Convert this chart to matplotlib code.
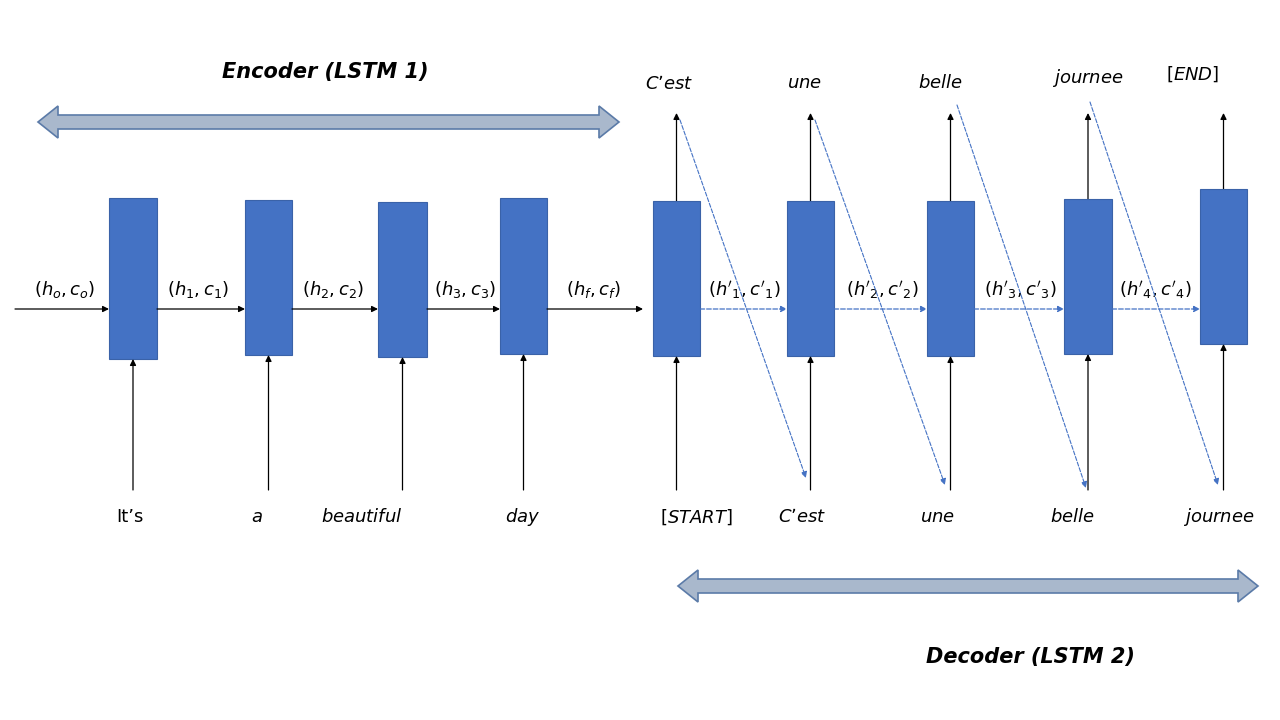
import matplotlib
matplotlib.use("Agg")
import matplotlib.pyplot as plt
from matplotlib.patches import Rectangle, Polygon

# cell boxes (left, top, right, bottom) in pixel coords
boxes = [(109, 198, 157, 359), (245, 200, 292, 355), (378, 202, 427, 357),
         (500, 198, 547, 354), (653, 201, 700, 356), (787, 201, 834, 356),
         (927, 201, 974, 356), (1064, 199, 1112, 354), (1200, 189, 1247, 344)]
inputs = ["It\u2019s", "$a$", "$beautiful$", "$day$", "$[START]$",
          "$C\u2019est$", "$une$", "$belle$", "$journee$"]
input_x = [130, 257, 362, 523, 696, 802, 938, 1072, 1219]
outputs = ["$C\u2019est$", "$une$", "$belle$", "$journee$", "$[END]$"]
output_pos = [(669, 84), (805, 83), (940, 83), (1088, 78), (1193, 74)]
states = ["$(h_o,c_o)$", "$(h_1,c_1)$", "$(h_2,c_2)$", "$(h_3,c_3)$", "$(h_f,c_f)$",
          "$(h'_1,c'_1)$", "$(h'_2,c'_2)$", "$(h'_3,c'_3)$", "$(h'_4,c'_4)$"]
state_x = [65, 198, 333, 465, 593, 744, 882, 1020, 1155]
diag = [((680, 120), (806, 478)), ((815, 120), (945, 485)),
        ((957, 105), (1086, 488)), ((1090, 102), (1218, 485))]

BLUE = "#4472C4"
fig = plt.figure(figsize=(12.8, 7.2), dpi=100)
ax = fig.add_axes([0, 0, 1, 1])
ax.set_xlim(0, 1280)
ax.set_ylim(720, 0)
ax.axis("off")


def arrow(x0, y0, x1, y1, color="black", ls="-", lw=0.9):
    ax.annotate("", xy=(x1, y1), xytext=(x0, y0),
                arrowprops=dict(arrowstyle="-|>", color=color, lw=lw, ls=ls,
                                mutation_scale=9, shrinkA=0, shrinkB=0))


def double_arrow(x0, x1, y, shaft=14, head=32, hl=20):
    pts = [(x0, y), (x0 + hl, y - head / 2), (x0 + hl, y - shaft / 2),
           (x1 - hl, y - shaft / 2), (x1 - hl, y - head / 2), (x1, y),
           (x1 - hl, y + head / 2), (x1 - hl, y + shaft / 2),
           (x0 + hl, y + shaft / 2), (x0 + hl, y + head / 2)]
    ax.add_patch(Polygon(pts, closed=True, fc="#A9B8CC", ec="#5B7BA8", lw=1.2))


for i, (l, t, r, b) in enumerate(boxes):
    ax.add_patch(Rectangle((l, t), r - l, b - t, fc=BLUE, ec="#3A62A8", lw=0.8, zorder=3))
    cx = (l + r) / 2
    arrow(cx, 490, cx, b)
    ax.text(input_x[i], 517, inputs[i], ha="center", va="center", fontsize=13)
    ax.text(state_x[i], 290, states[i], ha="center", va="center", fontsize=13)
    if i >= 4:
        ax.annotate("", xy=(cx, 113), xytext=(cx, t),
                    arrowprops=dict(arrowstyle="-|>", color="black", lw=0.9,
                                    mutation_scale=9, shrinkA=0, shrinkB=0), zorder=1)

# encoder hidden-state arrows
arrow(15, 309, boxes[0][0], 309)
for a, b in zip(boxes[:4], boxes[1:4]):
    arrow(a[2], 309, b[0], 309)
arrow(boxes[3][2], 309, 643, 309)
# decoder hidden-state arrows (dashed)
for a, b in zip(boxes[4:8], boxes[5:9]):
    arrow(a[2], 309, b[0], 309, color=BLUE, ls="--")

for (x, y), s in zip(output_pos, outputs):
    ax.text(x, y, s, ha="center", va="center", fontsize=13)
for (p0, p1) in diag:
    arrow(p0[0], p0[1], p1[0], p1[1], color=BLUE, ls="--", lw=0.8)

double_arrow(38, 619, 122)
double_arrow(678, 1258, 586)
ax.text(325, 72, "Encoder (LSTM 1)", ha="center", va="center", fontsize=15,
        fontweight="bold", style="italic")
ax.text(1030, 657, "Decoder (LSTM 2)", ha="center", va="center", fontsize=15,
        fontweight="bold", style="italic")

fig.savefig("out.png", dpi=100)
